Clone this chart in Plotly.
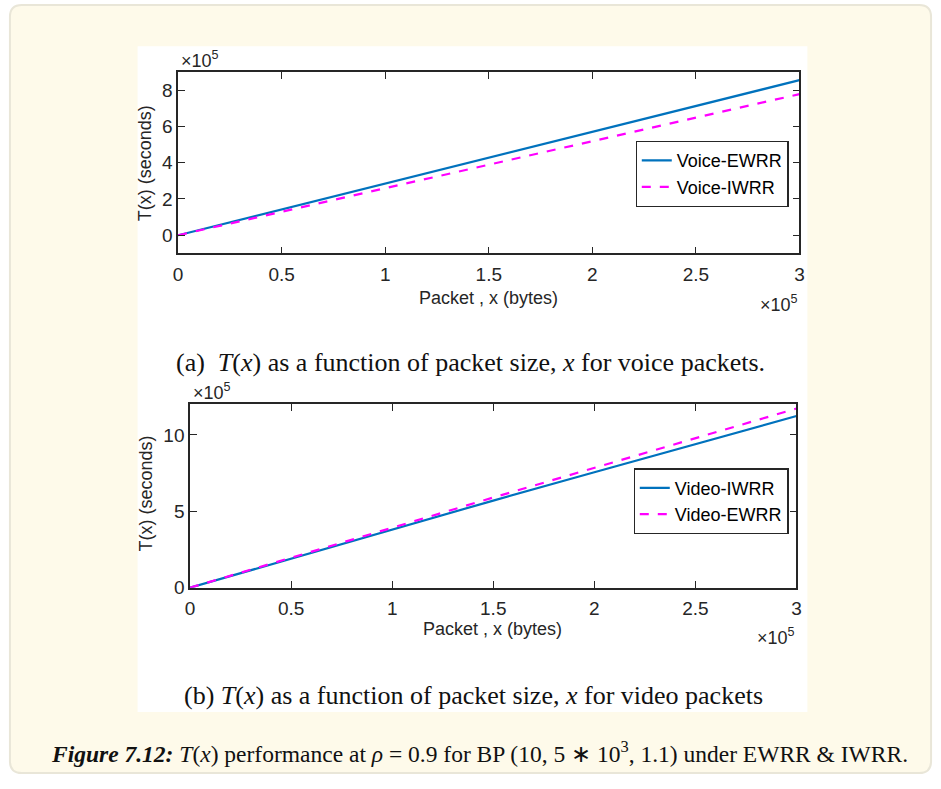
import plotly.graph_objects as go

# Packet sizes (bytes) at which T(x) was evaluated
packet_bytes = [0, 50000, 100000, 150000, 200000, 250000, 300000]

# Voice packets: T(x) in seconds
voice_ewrr_s = [0, 1.42e5, 2.88e5, 4.30e5, 5.71e5, 7.13e5, 8.55e5]
voice_iwrr_s = [0, 1.30e5, 2.60e5, 3.90e5, 5.19e5, 6.49e5, 7.78e5]

# Video packets: T(x) in seconds
video_iwrr_s = [0, 1.90e5, 3.82e5, 5.70e5, 7.55e5, 9.40e5, 11.23e5]
video_ewrr_s = [0, 1.94e5, 3.92e5, 5.90e5, 7.85e5, 9.80e5, 11.72e5]

# Tick positions / labels (scaled by 10^5)
x_tickvals = [0, 50000, 100000, 150000, 200000, 250000, 300000]
x_ticktext = ["0", "0.5", "1", "1.5", "2", "2.5", "3"]
voice_y_tickvals = [0, 2e5, 4e5, 6e5, 8e5]
voice_y_ticktext = ["0", "2", "4", "6", "8"]
video_y_tickvals = [0, 5e5, 10e5]
video_y_ticktext = ["0", "5", "10"]

W, H = 941, 789
BLUE = "#0072BD"
MAGENTA = "#FF00FF"
AX = "#262626"
SANS = "Liberation Sans, Arial, sans-serif"
SERIF = "Liberation Serif, Times New Roman, serif"

fig = go.Figure()

fig.add_trace(go.Scatter(x=packet_bytes, y=voice_ewrr_s, name="Voice-EWRR", mode="lines",
                         line=dict(color=BLUE, width=2.2), xaxis="x", yaxis="y", legend="legend"))
fig.add_trace(go.Scatter(x=packet_bytes, y=voice_iwrr_s, name="Voice-IWRR", mode="lines",
                         line=dict(color=MAGENTA, width=2.2, dash="dash"), xaxis="x", yaxis="y",
                         legend="legend"))
fig.add_trace(go.Scatter(x=packet_bytes, y=video_iwrr_s, name="Video-IWRR", mode="lines",
                         line=dict(color=BLUE, width=2.2), xaxis="x2", yaxis="y2", legend="legend2"))
fig.add_trace(go.Scatter(x=packet_bytes, y=video_ewrr_s, name="Video-EWRR", mode="lines",
                         line=dict(color=MAGENTA, width=2.2, dash="dash"), xaxis="x2", yaxis="y2",
                         legend="legend2"))


def px_x(v):
    return v / W


def px_y(v):
    return 1 - v / H


axis_common = dict(showline=True, linecolor=AX, linewidth=1.5, mirror="allticks",
                   ticks="inside", ticklen=7, tickwidth=1.2, tickcolor=AX,
                   showgrid=False, zeroline=False,
                   tickfont=dict(family=SANS, size=19, color=AX))
x_axis_style = dict(ticklabelstandoff=3, **axis_common)
y_axis_style = dict(ticklabelstandoff=0, **axis_common)

top_dom_x = [px_x(175), px_x(803)]
top_dom_y = [px_y(257), px_y(73)]
bot_dom_x = [px_x(187), px_x(800)]
bot_dom_y = [px_y(596), px_y(410)]

legend_style = dict(xanchor="right", yanchor="top", bgcolor="white", bordercolor=AX,
                    borderwidth=1.2, font=dict(family=SANS, size=18, color="black"),
                    tracegroupgap=0, itemwidth=30)

fig.update_layout(
    width=W, height=H,
    margin=dict(l=0, r=0, t=0, b=0),
    paper_bgcolor="white",
    plot_bgcolor="rgba(0,0,0,0)",
    xaxis=dict(domain=top_dom_x, anchor="y", range=[0, 300000],
               tickvals=x_tickvals, ticktext=x_ticktext, **x_axis_style),
    yaxis=dict(domain=top_dom_y, anchor="x", range=[-1e5, 9e5],
               tickvals=voice_y_tickvals, ticktext=voice_y_ticktext, **y_axis_style),
    xaxis2=dict(domain=bot_dom_x, anchor="y2", range=[0, 300000],
                tickvals=x_tickvals, ticktext=x_ticktext, **x_axis_style),
    yaxis2=dict(domain=bot_dom_y, anchor="x2", range=[0, 12e5],
                tickvals=video_y_tickvals, ticktext=video_y_ticktext, **y_axis_style),
    legend=dict(x=px_x(792), y=px_y(143), **legend_style),
    legend2=dict(x=px_x(792), y=px_y(475), **legend_style),
    showlegend=True,
)

# Card background, rounded border and white figure panel
r = 12
x0, y0, x1, y1 = 5, 5, 936, 784
card_path = (f"M {x0 + r},{y0} L {x1 - r},{y0} Q {x1},{y0} {x1},{y0 + r} "
             f"L {x1},{y1 - r} Q {x1},{y1} {x1 - r},{y1} L {x0 + r},{y1} "
             f"Q {x0},{y1} {x0},{y1 - r} L {x0},{y0 + r} Q {x0},{y0} {x0 + r},{y0} Z")


def to_paper_path(path):
    out = []
    for tok in path.split():
        if "," in tok:
            a, b = tok.split(",")
            out.append(f"{float(a) / W:.5f},{1 - float(b) / H:.5f}")
        else:
            out.append(tok)
    return " ".join(out)


fig.add_shape(type="path", path=to_paper_path(card_path), xref="paper", yref="paper",
              fillcolor="#FEFAEA", line=dict(color="#E9E6D8", width=2), layer="below")
fig.add_shape(type="rect", xref="paper", yref="paper",
              x0=px_x(134), x1=px_x(811), y0=px_y(722), y1=px_y(47),
              fillcolor="white", line=dict(width=0), layer="below")


def label(text, x, y, xanchor="center", yanchor="middle", size=18, family=SANS,
          color=AX, angle=0):
    return dict(text=text, xref="paper", yref="paper", x=px_x(x), y=px_y(y),
                xanchor=xanchor, yanchor=yanchor, showarrow=False, textangle=angle,
                font=dict(family=family, size=size, color=color))


ann = [
    # axis exponent labels
    label("×10<sup>5</sup>", 176, 74, "left", "bottom"),
    label("×10<sup>5</sup>", 804, 294, "right", "top"),
    label("×10<sup>5</sup>", 188, 411, "left", "bottom"),
    label("×10<sup>5</sup>", 801, 632, "right", "top"),
    # axis titles
    label("Packet , x (bytes)", 489, 302),
    label("Packet , x (bytes)", 493, 638),
    label("T(x) (seconds)", 141, 166, angle=-90),
    label("T(x) (seconds)", 143, 500, angle=-90),
    # sub-figure captions
    label("(a)  <i>T</i>(<i>x</i>) as a function of packet size, <i>x</i> for voice packets.",
          470, 368, size=26, family=SERIF, color="#111111"),
    label("(b) <i>T</i>(<i>x</i>) as a function of packet size, <i>x</i> for video packets",
          474, 705, size=26, family=SERIF, color="#111111"),
    # figure caption
    label("<b><i>Figure 7.12:</i></b> <i>T</i>(<i>x</i>) performance at <i>ρ</i> = 0.9 "
          "for BP (10, 5 ∗ 10<sup>3</sup>, 1.1) under EWRR &amp; IWRR.",
          480, 763, size=23.5, family=SERIF, color="#111111"),
]

fig.update_layout(annotations=ann)

fig.write_html("out.html")
